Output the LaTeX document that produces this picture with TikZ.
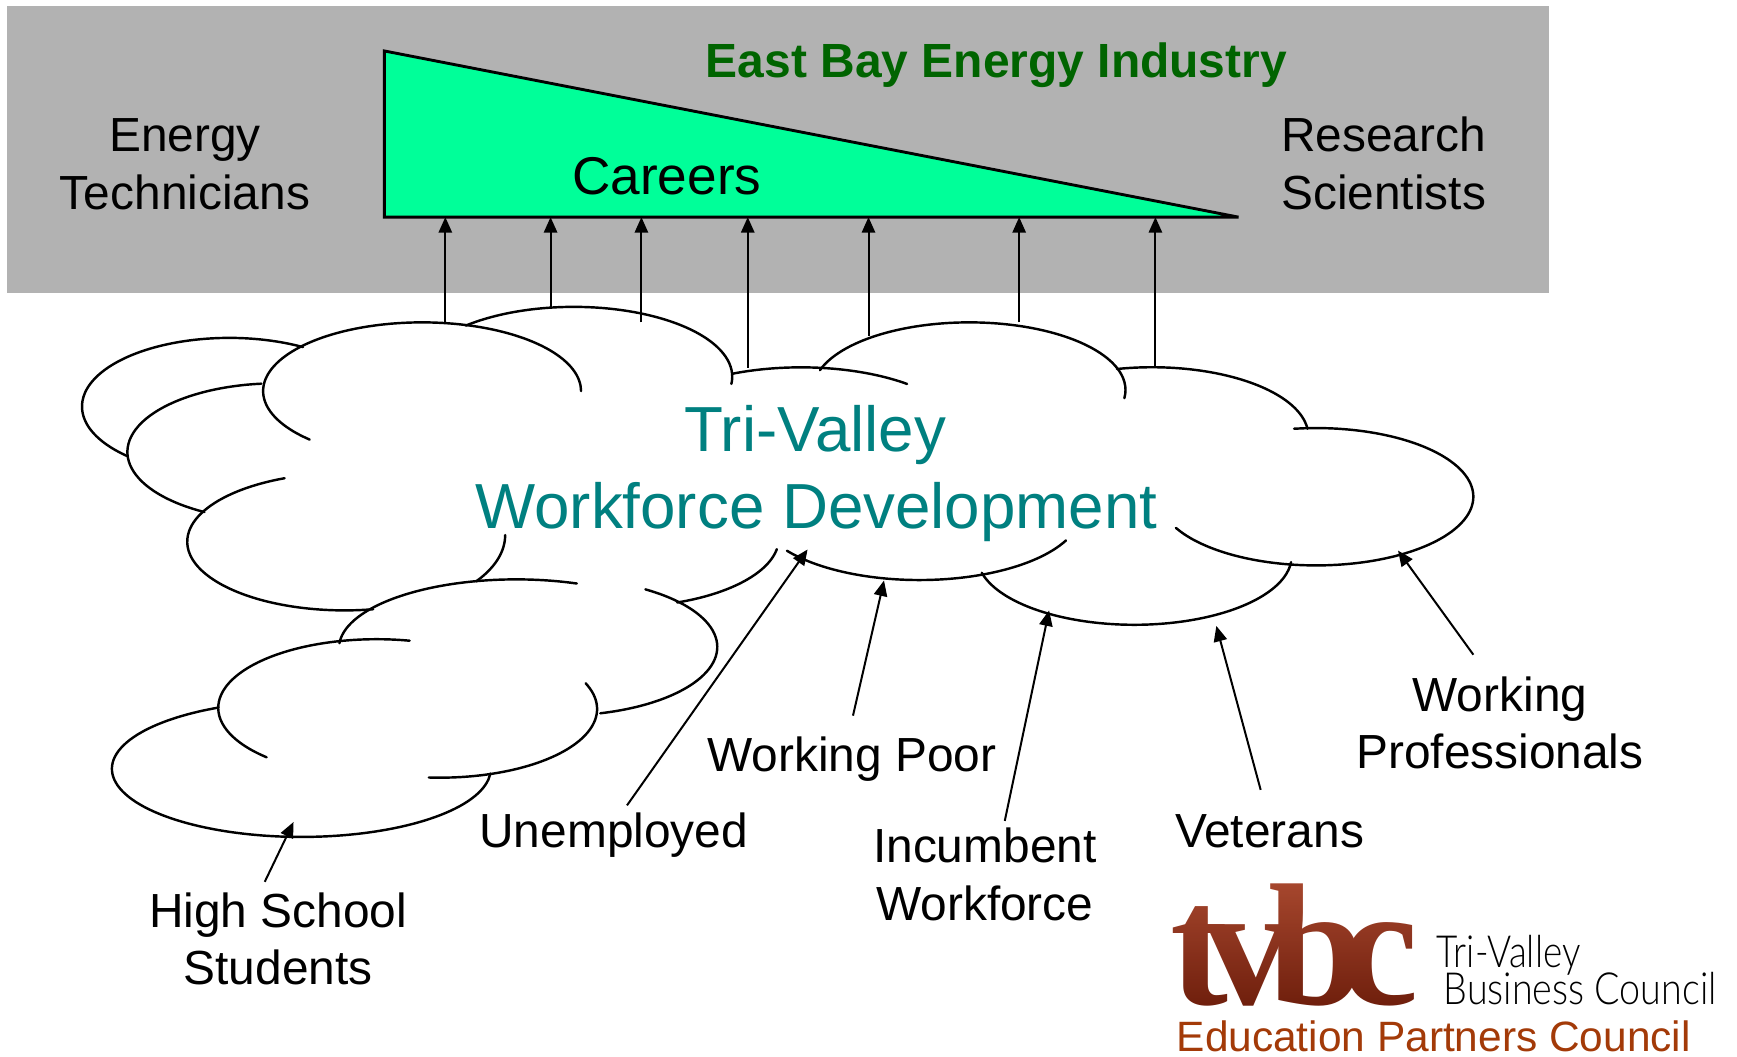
\documentclass[tikz,border=0pt]{standalone}
\usepackage{fontspec}
\setmainfont{Liberation Sans}
\newfontfamily\logoserif{Liberation Serif}
\newfontfamily\logolight{Lato Light}
\usetikzlibrary{arrows.meta}
\definecolor{panelgray}{HTML}{B2B2B2}
\definecolor{careergreen}{HTML}{00FF99}
\definecolor{tealtext}{HTML}{008080}
\definecolor{darkgreen}{HTML}{006400}
\definecolor{rust}{HTML}{A33A08}
\definecolor{logored}{HTML}{6E1E0C}
\tikzset{
  lbl/.style={anchor=base,inner sep=0pt,align=center,font=\fontsize{43.2}{52}\selectfont,text=black},
  cloudline/.style={line width=2.2pt,line cap=round,line join=round},
  flow/.style={line width=1.8pt,-{Triangle[length=14pt,width=12pt]}},
}
\newcommand{\lobe}[6]{\draw[cloudline] plot[domain=#5:#6,samples=50,smooth] ({#1+#3*cos(\x)},{#2+#4*sin(\x)});}
\begin{document}
\begin{tikzpicture}[x=1pt,y=-1pt]
\useasboundingbox (0,0) rectangle (1568,953.3);
\fill[white] (0,0) rectangle (1568,953.3);
\fill[panelgray] (6,5) rectangle (1398,264.5);
\node[lbl] (en) at (167,189) {Energy\\Technicians};
\node[lbl] (re) at (1249,189) {Research\\Scientists};
\draw[fill=careergreen,line width=2.6pt,line join=miter] (347,46) -- (1118,196) -- (347,196) -- cycle;
\node[lbl,font=\bfseries\fontsize{43.3}{52}\selectfont,text=darkgreen] (eb) at (899.5,70) {East Bay Energy Industry};
\node[lbl,font=\fontsize{48}{52}\selectfont] (ca) at (602,176) {Careers};
% arrows to careers
\foreach \n/\x/\y in {a/402/291,b/497/277,c/579/291,d/675/332,e/784/303,f/920/291,g/1043/332}{
  \coordinate (s\n) at (\x,\y);
  \coordinate (t\n) at (\x,196);
  \draw[flow] (s\n) -- (t\n);
}
% main cloud
\lobe{207}{367}{133}{62}{-60}{-226}
\lobe{250}{408}{135}{62}{-96}{-241}
\lobe{311}{489}{142}{62}{-112.4}{-280.5}
\lobe{381}{353}{143.5}{62}{-225}{0}
\lobe{518}{340}{143}{63}{-133}{6}
\lobe{723}{393.6}{147}{62}{-115}{-49.3}
\lobe{875}{352}{141}{61}{-163}{7}
\lobe{1040}{393.5}{141}{62}{-103}{-6}
\lobe{1188}{448.4}{142}{62}{-98}{153}
\lobe{1024}{502}{142}{62}{5}{166}
\lobe{830}{461.6}{146}{62}{25}{145}
\lobe{560}{486}{143}{62}{9}{69}
\lobe{315}{483}{141}{72}{0}{35.5}
% lower cloud
\lobe{466}{585}{160}{62}{-176}{-70}
\lobe{505}{584}{142.5}{62}{-57}{75}
\lobe{340}{639}{143}{62}{-78}{-226}
\lobe{397}{640}{142}{62}{-22}{94}
\lobe{272}{694}{171}{61.5}{-116}{-356}
% cloud text
\node[anchor=base,inner sep=0pt,font=\fontsize{57.5}{69}\selectfont,text=tealtext] (tv) at (736,408) {Tri-Valley};
\node[anchor=base,inner sep=0pt,font=\fontsize{57.5}{69}\selectfont,text=tealtext] (wd) at (737,477.4) {Workforce Development};
% labels
\node[lbl] (hs) at (251,889) {High School\\Students};
\node[lbl] (un) at (554,765) {Unemployed};
\node[lbl] (wp) at (769,696) {Working Poor};
\node[lbl] (ib) at (889,831) {Incumbent\\Workforce};
\node[lbl] (ve) at (1146,765) {Veterans};
\node[lbl] (pr) at (1354,694) {Working\\Professionals};
% arrows to cloud
\foreach \n/\xa/\ya/\xb/\yb in {h/239/796/265/742,u/566/727/729/496,p/770/646/798/524,i/907/741/947/551,v/1138/713/1098/565,w/1330/591/1262/497}{
  \coordinate (f\n) at (\xa,\ya);
  \coordinate (g\n) at (\xb,\yb);
  \draw[flow] (f\n) -- (g\n);
}
% logo
\node[anchor=base west,inner sep=0pt,font=\logoserif\bfseries\fontsize{157}{157}\selectfont,text=logored] (tvbc) at (1056,907) {t\kern-21pt v\kern-21pt b\kern-21pt c};
\shade[top color={rgb,1:red,.386;green,.18;blue,.137},bottom color=black,blend mode=screen] (1050,796) rectangle (1285,909);
\node[anchor=base west,inner sep=0pt,font=\logolight\fontsize{40}{40}\selectfont,text=black,xscale=.83] (lt) at (1297,873.6) {Tri-Valley};
\node[anchor=base west,inner sep=0pt,font=\logolight\fontsize{40}{40}\selectfont,text=black,xscale=.85] (lb) at (1303,907) {Business Council};
\node[anchor=base west,inner sep=0pt,font=\fontsize{38.3}{46}\selectfont,text=rust] (ep) at (1062,949.6) {Education Partners Council};
\end{tikzpicture}
\end{document}
